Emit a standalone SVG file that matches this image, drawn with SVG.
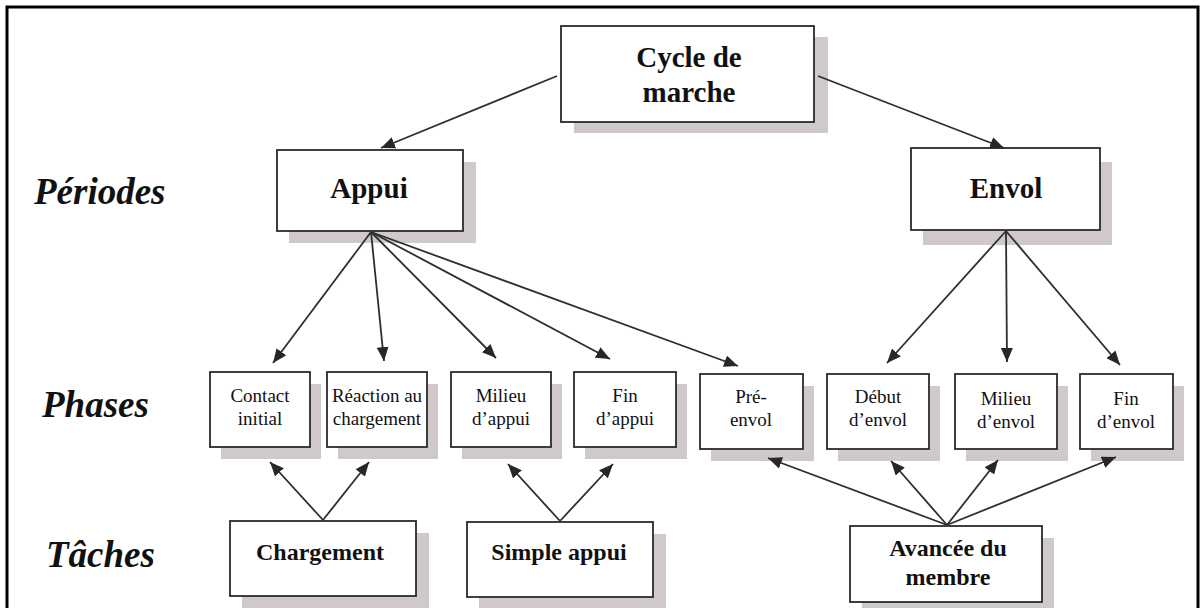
<svg xmlns="http://www.w3.org/2000/svg" width="1201" height="608" viewBox="0 0 1201 608">
<style>
.box{fill:#fff;stroke:#2b2b2b;stroke-width:1.8}
.shadow{fill:#d0c9cc}
.big{font-family:"Liberation Serif","Times New Roman",serif;font-weight:bold;font-size:29px;fill:#111;text-anchor:middle}
.task{font-family:"Liberation Serif","Times New Roman",serif;font-weight:bold;font-size:24px;fill:#111;text-anchor:middle}
.ph{font-family:"Liberation Serif","Times New Roman",serif;font-size:19px;fill:#111;text-anchor:middle}
.lab{font-family:"Liberation Serif","Times New Roman",serif;font-weight:bold;font-style:italic;font-size:37px;fill:#111}
.con line{stroke:#2e2e2e;stroke-width:1.8;marker-end:url(#ah)}
</style>
<defs>
<marker id="ah" markerUnits="userSpaceOnUse" markerWidth="15" markerHeight="12" refX="14" refY="6" orient="auto">
<path d="M0,0 L14,6 L0,12 Z" fill="#2a2623"/>
</marker>
</defs>
<rect width="1201" height="608" fill="#fff"/>
<path d="M7,608 V7 H1198 V608" fill="none" stroke="#000" stroke-width="3"/>

<g id="labels">
<text class="lab" x="34" y="204">Périodes</text>
<text class="lab" x="42" y="417">Phases</text>
<text class="lab" x="46" y="567">Tâches</text>
</g>

<g id="cycle">
<rect class="shadow" x="574" y="37" width="254" height="96"/>
<rect class="box" x="561" y="26" width="253" height="96"/>
<text class="big" x="689" y="67">Cycle de</text>
<text class="big" x="689" y="102">marche</text>
</g>
<g id="appui">
<rect class="shadow" x="289" y="162" width="187" height="81"/>
<rect class="box" x="277" y="150" width="186" height="81"/>
<text class="big" x="369" y="198">Appui</text>
</g>
<g id="envol">
<rect class="shadow" x="923" y="162" width="189" height="83"/>
<rect class="box" x="911" y="148" width="189" height="82"/>
<text class="big" x="1006" y="198">Envol</text>
</g>

<g id="contact-initial">
<rect class="shadow" x="221" y="384" width="100" height="75"/>
<rect class="box" x="210" y="372" width="100" height="75"/>
<text class="ph" x="260" y="402">Contact</text>
<text class="ph" x="260" y="425">initial</text>
</g>
<g id="reaction">
<rect class="shadow" x="338" y="384" width="100" height="75"/>
<rect class="box" x="327" y="372" width="100" height="75"/>
<text class="ph" x="377" y="402">Réaction au</text>
<text class="ph" x="377" y="425">chargement</text>
</g>
<g id="milieu-appui">
<rect class="shadow" x="462" y="384" width="100" height="75"/>
<rect class="box" x="451" y="372" width="100" height="75"/>
<text class="ph" x="501" y="402">Milieu</text>
<text class="ph" x="501" y="425">d’appui</text>
</g>
<g id="fin-appui">
<rect class="shadow" x="585" y="384" width="102" height="75"/>
<rect class="box" x="574" y="372" width="102" height="75"/>
<text class="ph" x="625" y="402">Fin</text>
<text class="ph" x="625" y="425">d’appui</text>
</g>
<g id="pre-envol">
<rect class="shadow" x="711" y="386" width="103" height="75"/>
<rect class="box" x="700" y="374" width="103" height="75"/>
<text class="ph" x="751" y="403">Pré-</text>
<text class="ph" x="751" y="426">envol</text>
</g>
<g id="debut-envol">
<rect class="shadow" x="838" y="386" width="102" height="75"/>
<rect class="box" x="827" y="374" width="102" height="75"/>
<text class="ph" x="878" y="403">Début</text>
<text class="ph" x="878" y="426">d’envol</text>
</g>
<g id="milieu-envol">
<rect class="shadow" x="966" y="386" width="102" height="75"/>
<rect class="box" x="955" y="374" width="102" height="75"/>
<text class="ph" x="1006" y="405">Milieu</text>
<text class="ph" x="1006" y="428">d’envol</text>
</g>
<g id="fin-envol">
<rect class="shadow" x="1091" y="386" width="93" height="75"/>
<rect class="box" x="1080" y="374" width="93" height="75"/>
<text class="ph" x="1126" y="405">Fin</text>
<text class="ph" x="1126" y="428">d’envol</text>
</g>

<g id="chargement">
<rect class="shadow" x="242" y="533" width="187" height="80"/>
<rect class="box" x="230" y="521" width="186" height="75"/>
<text class="task" x="320" y="560">Chargement</text>
</g>
<g id="simple-appui">
<rect class="shadow" x="479" y="534" width="187" height="80"/>
<rect class="box" x="467" y="522" width="186" height="75"/>
<text class="task" x="559" y="560">Simple appui</text>
</g>
<g id="avancee-membre">
<rect class="shadow" x="862" y="538" width="192" height="76"/>
<rect class="box" x="850" y="526" width="192" height="76"/>
<text class="task" x="948" y="556">Avancée du</text>
<text class="task" x="948" y="585">membre</text>
</g>

<g id="connectors" class="con">
<line x1="557" y1="76" x2="381" y2="148"/>
<line x1="818" y1="76" x2="1004" y2="148"/>
<line x1="371" y1="232" x2="273" y2="363"/>
<line x1="371" y1="232" x2="384" y2="361"/>
<line x1="371" y1="232" x2="496" y2="358"/>
<line x1="371" y1="232" x2="610" y2="359"/>
<line x1="371" y1="232" x2="738" y2="366"/>
<line x1="1006" y1="231" x2="887" y2="363"/>
<line x1="1006" y1="231" x2="1007" y2="362"/>
<line x1="1006" y1="231" x2="1120" y2="365"/>
<line x1="323" y1="520" x2="270" y2="462"/>
<line x1="323" y1="520" x2="369" y2="462"/>
<line x1="560" y1="521" x2="508" y2="464"/>
<line x1="560" y1="521" x2="613" y2="464"/>
<line x1="947" y1="525" x2="768" y2="458"/>
<line x1="947" y1="525" x2="891" y2="461"/>
<line x1="947" y1="525" x2="998" y2="460"/>
<line x1="947" y1="525" x2="1116" y2="457"/>
</g>
</svg>
